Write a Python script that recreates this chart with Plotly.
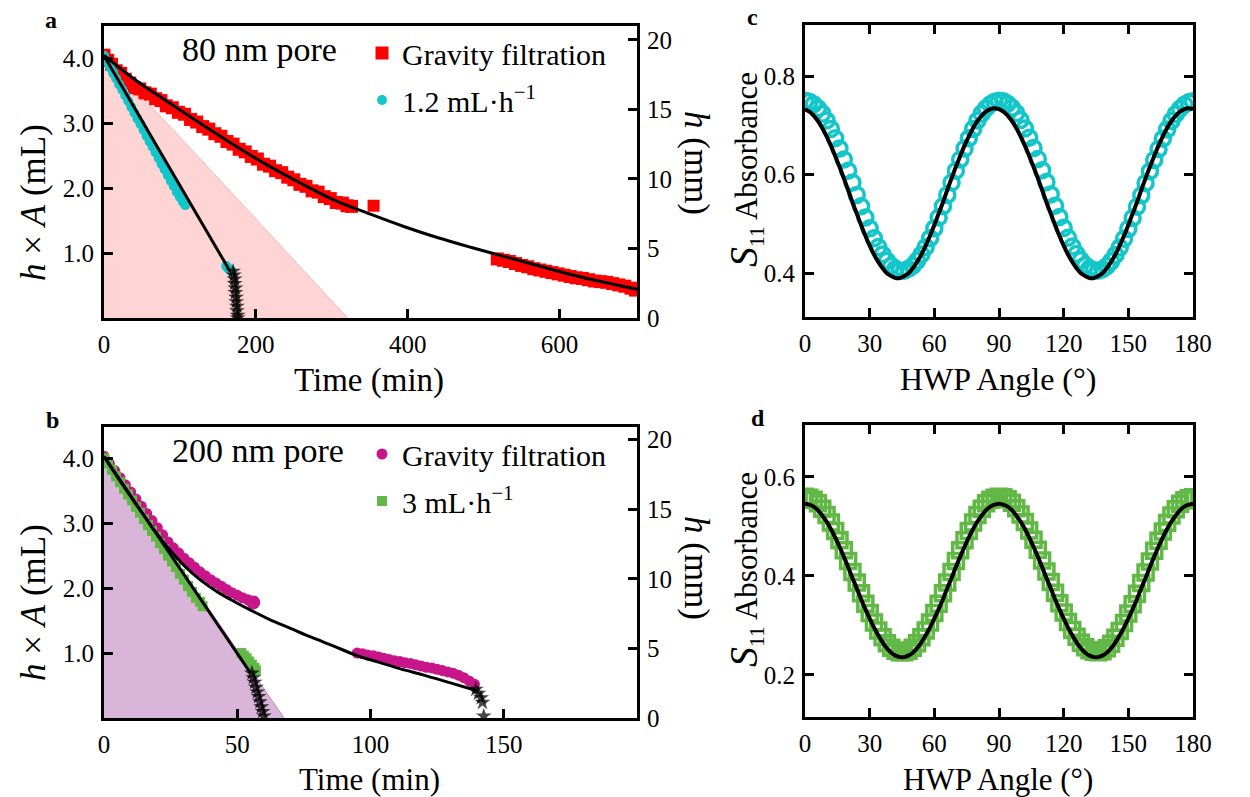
import plotly.graph_objects as go

W, H = 1250, 797
FONT = "Liberation Serif"

# ---------------- Panel a : 80 nm pore ----------------
a_grav_t = [0, 5, 10, 16, 22, 28, 34, 40, 47, 54, 61, 68, 75, 82, 90, 98, 106, 114, 122, 130,
            138, 146, 154, 162, 170, 178, 186, 194, 202, 210, 218, 226, 234, 242, 250, 258, 266,
            274, 282, 290, 298, 306, 314, 320, 326,
            518, 526, 534, 542, 550, 558, 566, 574, 582, 590, 598, 606, 614, 622, 630, 638, 646,
            654, 662, 670, 678, 686, 694, 700]
a_grav_v = [4.05, 3.97, 3.91, 3.81, 3.77, 3.68, 3.62, 3.55, 3.53, 3.47, 3.45, 3.38, 3.35, 3.27,
            3.24, 3.17, 3.14, 3.06, 3.02, 2.95, 2.91, 2.84, 2.80, 2.72, 2.68, 2.60, 2.56, 2.49,
            2.45, 2.37, 2.34, 2.27, 2.24, 2.17, 2.13, 2.06, 2.03, 1.96, 1.94, 1.87, 1.84, 1.78,
            1.77, 1.73, 1.72,
            0.91, 0.89, 0.87, 0.84, 0.81, 0.79, 0.76, 0.74, 0.72, 0.70, 0.68, 0.66, 0.64, 0.62,
            0.61, 0.59, 0.57, 0.56, 0.55, 0.53, 0.51, 0.49, 0.46, 0.43]
a_grav_out_t = [355]
a_grav_out_v = [1.73]

a_pump_t = [0, 4, 8, 12, 16, 20, 24, 28, 32, 36, 40, 44, 48, 52, 56, 60, 64, 68, 72, 76, 80,
            84, 88, 92, 96, 100, 104, 107, 161, 163, 165, 167]
a_pump_v = [4.04, 3.95, 3.86, 3.78, 3.69, 3.60, 3.52, 3.43, 3.34, 3.25, 3.16, 3.07, 2.99, 2.90,
            2.81, 2.72, 2.64, 2.55, 2.46, 2.37, 2.29, 2.20, 2.11, 2.03, 1.94, 1.86, 1.79, 1.74,
            0.80, 0.77, 0.75, 0.73]

a_star_t = [170, 171, 172, 172, 173, 173, 174, 174, 175, 175, 176, 176]
a_star_v = [0.72, 0.66, 0.60, 0.53, 0.46, 0.39, 0.32, 0.25, 0.18, 0.11, 0.04, 0.00]

a_fit_grav_t = [0, 38.7, 82.7, 126.6, 170.6, 214.6, 258.6, 302.5, 350.9, 394.9, 438.9, 482.9,
                526.8, 570.8, 614.8, 658.7, 702.8]
a_fit_grav_v = [4.05, 3.69, 3.34, 3.00, 2.67, 2.36, 2.08, 1.82, 1.60, 1.41, 1.24, 1.09, 0.95,
                0.81, 0.67, 0.55, 0.44]
a_fit_pump_t = [0, 166]
a_fit_pump_v = [4.04, 0.72]
a_shade_t = [0, 321]
a_shade_v = [4.05, 0]

# ---------------- Panel b : 200 nm pore ----------------
b_grav_t = [0, 2, 4, 6, 8, 10, 12, 14, 16, 18, 20, 22, 24, 26, 28, 30, 32, 34, 36, 38, 40, 42,
            44, 46, 48, 50, 52, 54,
            95, 97, 99, 101, 103, 105, 107, 109, 111, 113, 115, 117, 119, 121, 123, 125, 127,
            129, 131, 133, 135, 137, 139]
b_grav_v = [4.03, 3.92, 3.81, 3.70, 3.59, 3.48, 3.37, 3.26, 3.15, 3.04, 2.93, 2.82, 2.71, 2.62,
            2.54, 2.46, 2.39, 2.32, 2.25, 2.19, 2.13, 2.08, 2.03, 1.98, 1.93, 1.89, 1.85, 1.82,
            1.00, 0.99, 0.97, 0.96, 0.94, 0.92, 0.90, 0.88, 0.87, 0.85, 0.84, 0.82, 0.80, 0.78,
            0.77, 0.75, 0.73, 0.71, 0.69, 0.66, 0.62, 0.57, 0.52]
b_grav_out_t = [56]
b_grav_out_v = [1.78]

b_pump_t = [0, 1.5, 3, 4.5, 6, 7.5, 9, 10.5, 12, 13.5, 15, 16.5, 18, 19.5, 21, 22.5, 24, 25.5,
            27, 28.5, 30, 31.5, 33, 34.5, 36, 37,
            51.5, 52.5, 53.5, 54.5, 55.5, 56.5, 57]
b_pump_v = [4.00, 3.92, 3.82, 3.72, 3.63, 3.53, 3.44, 3.35, 3.25, 3.16, 3.06, 2.97, 2.88, 2.79,
            2.69, 2.60, 2.50, 2.41, 2.32, 2.22, 2.13, 2.03, 1.94, 1.85, 1.79, 1.72,
            1.00, 0.96, 0.92, 0.87, 0.82, 0.77, 0.73]

b_star_t = [55.5, 56, 56.5, 57, 57.5, 58, 58.5, 59, 59.5, 60,
            139.5, 140.5, 141.5, 142, 142.5]
b_star_v = [0.69, 0.62, 0.55, 0.47, 0.40, 0.33, 0.25, 0.17, 0.10, 0.03,
            0.44, 0.38, 0.31, 0.24, 0.03]

b_fit_grav_t = [0, 6, 12, 18, 24, 30, 36, 43, 49, 55, 62, 70, 78, 86, 95, 103, 111, 120, 130, 140]
b_fit_grav_v = [4.02, 3.65, 3.29, 2.94, 2.62, 2.35, 2.13, 1.93, 1.79, 1.66, 1.52, 1.38, 1.24,
                1.11, 0.96, 0.86, 0.76, 0.66, 0.54, 0.42]
b_fit_pump_t = [0, 55]
b_fit_pump_v = [4.03, 0.69]
b_shade_t = [0, 67.6]
b_shade_v = [4.02, 0]

# ---------------- Panels c, d : HWP angle scans ----------------
angles = [0, 2, 4, 6, 8, 10, 12, 14, 16, 18, 20, 22, 24, 26, 28, 30, 32, 34, 36, 38, 40, 42, 44,
          46, 48, 50, 52, 54, 56, 58, 60, 62, 64, 66, 68, 70, 72, 74, 76, 78, 80, 82, 84, 86, 88,
          90, 92, 94, 96, 98, 100, 102, 104, 106, 108, 110, 112, 114, 116, 118, 120, 122, 124,
          126, 128, 130, 132, 134, 136, 138, 140, 142, 144, 146, 148, 150, 152, 154, 156, 158,
          160, 162, 164, 166, 168, 170, 172, 174, 176, 178, 180]

c_data = [0.750, 0.748, 0.743, 0.735, 0.724, 0.710, 0.693, 0.674, 0.653, 0.631, 0.608, 0.584,
          0.559, 0.536, 0.513, 0.491, 0.471, 0.453, 0.438, 0.425, 0.415, 0.409, 0.405, 0.405,
          0.409, 0.415, 0.425, 0.438, 0.453, 0.471, 0.491, 0.513, 0.536, 0.559, 0.584, 0.608,
          0.631, 0.653, 0.674, 0.693, 0.710, 0.724, 0.735, 0.743, 0.748, 0.750,
          0.749, 0.744, 0.736, 0.725, 0.711, 0.694, 0.675, 0.654, 0.632, 0.609, 0.585, 0.560,
          0.537, 0.514, 0.492, 0.472, 0.454, 0.439, 0.426, 0.416, 0.410, 0.406, 0.405, 0.408,
          0.414, 0.424, 0.437, 0.452, 0.470, 0.490, 0.512, 0.535, 0.558, 0.583, 0.607, 0.630,
          0.652, 0.673, 0.692, 0.709, 0.723, 0.734, 0.742, 0.747, 0.749]
c_fit = [0.733, 0.728, 0.720, 0.709, 0.695, 0.678, 0.659, 0.638, 0.616, 0.593, 0.569, 0.544,
         0.521, 0.498, 0.476, 0.456, 0.438, 0.423, 0.410, 0.400, 0.394, 0.390, 0.390, 0.394,
         0.400, 0.410, 0.423, 0.438, 0.456, 0.476, 0.498, 0.521, 0.544, 0.569, 0.593, 0.616,
         0.638, 0.659, 0.678, 0.695, 0.709, 0.720, 0.728, 0.733, 0.735,
         0.733, 0.728, 0.720, 0.709, 0.695, 0.678, 0.659, 0.638, 0.616, 0.593, 0.569, 0.544,
         0.521, 0.498, 0.476, 0.456, 0.438, 0.423, 0.410, 0.400, 0.394, 0.390, 0.390, 0.394,
         0.400, 0.410, 0.423, 0.438, 0.456, 0.476, 0.498, 0.521, 0.544, 0.569, 0.593, 0.616,
         0.638, 0.659, 0.678, 0.695, 0.709, 0.720, 0.728, 0.733, 0.735, 0.733]

d_data = [0.560, 0.558, 0.554, 0.547, 0.536, 0.523, 0.508, 0.491, 0.472, 0.452, 0.430, 0.408,
          0.387, 0.365, 0.344, 0.325, 0.306, 0.290, 0.276, 0.264, 0.255, 0.249, 0.246, 0.246,
          0.249, 0.255, 0.264, 0.276, 0.290, 0.306, 0.325, 0.344, 0.365, 0.387, 0.408, 0.430,
          0.452, 0.472, 0.491, 0.508, 0.523, 0.536, 0.547, 0.554, 0.558, 0.560,
          0.559, 0.555, 0.548, 0.537, 0.524, 0.509, 0.492, 0.473, 0.453, 0.431, 0.409, 0.388,
          0.366, 0.345, 0.326, 0.307, 0.291, 0.277, 0.265, 0.256, 0.250, 0.247, 0.246, 0.248,
          0.254, 0.263, 0.275, 0.289, 0.305, 0.324, 0.343, 0.364, 0.386, 0.407, 0.429, 0.451,
          0.471, 0.490, 0.507, 0.522, 0.535, 0.546, 0.553, 0.557, 0.559]
d_fit = [0.546, 0.544, 0.540, 0.533, 0.522, 0.510, 0.495, 0.478, 0.459, 0.439, 0.418, 0.396,
         0.375, 0.353, 0.333, 0.314, 0.296, 0.280, 0.266, 0.254, 0.245, 0.239, 0.236, 0.236,
         0.239, 0.245, 0.254, 0.266, 0.280, 0.296, 0.314, 0.333, 0.353, 0.375, 0.396, 0.418,
         0.439, 0.459, 0.478, 0.495, 0.510, 0.522, 0.533, 0.540, 0.544, 0.546,
         0.544, 0.540, 0.533, 0.522, 0.510, 0.495, 0.478, 0.459, 0.439, 0.418, 0.396, 0.375,
         0.353, 0.333, 0.314, 0.296, 0.280, 0.266, 0.254, 0.245, 0.239, 0.236, 0.236, 0.239,
         0.245, 0.254, 0.266, 0.280, 0.296, 0.314, 0.333, 0.353, 0.375, 0.396, 0.418, 0.439,
         0.459, 0.478, 0.495, 0.510, 0.522, 0.533, 0.540, 0.544, 0.546]

# ---------------- colours ----------------
RED = "#ff0000"
CYAN = "#12c6c9"
MAGENTA = "#c8168a"
GREEN = "#62b846"
STAR = "rgba(0,0,0,0.72)"

fig = go.Figure()

def add(tr):
    fig.add_trace(tr)

# ---- panel a traces ----
add(go.Scatter(x=a_shade_t, y=a_shade_v, xaxis="x", yaxis="y", mode="lines", fill="tozeroy",
               fillcolor="rgba(255,0,0,0.17)", line=dict(color="rgba(255,0,0,0.22)", width=1),
               showlegend=False, hoverinfo="skip"))
add(go.Scatter(x=a_grav_t, y=a_grav_v, xaxis="x", yaxis="y", mode="markers",
               marker=dict(symbol="square", size=13, color=RED), name="Gravity filtration",
               legend="legend", legendgroup="a1"))
add(go.Scatter(x=a_grav_out_t, y=a_grav_out_v, xaxis="x", yaxis="y", mode="markers",
               marker=dict(symbol="square", size=12, color=RED), showlegend=False))
add(go.Scatter(x=a_pump_t, y=a_pump_v, xaxis="x", yaxis="y", mode="markers",
               marker=dict(symbol="circle", size=10, color=CYAN), name="1.2 mL·h<sup>−1</sup>",
               legend="legend", legendgroup="a2"))
add(go.Scatter(x=a_fit_grav_t, y=a_fit_grav_v, xaxis="x", yaxis="y", mode="lines",
               line=dict(color="black", width=3, shape="spline"), showlegend=False))
add(go.Scatter(x=a_fit_pump_t, y=a_fit_pump_v, xaxis="x", yaxis="y", mode="lines",
               line=dict(color="black", width=3), showlegend=False))
add(go.Scatter(x=a_star_t, y=a_star_v, xaxis="x", yaxis="y", mode="markers",
               marker=dict(symbol="star", size=12, color=STAR), showlegend=False))
add(go.Scatter(x=[None], y=[None], xaxis="x", yaxis="y2", mode="markers", showlegend=False,
               hoverinfo="skip"))

# ---- panel b traces ----
add(go.Scatter(x=b_shade_t, y=b_shade_v, xaxis="x2", yaxis="y3", mode="lines", fill="tozeroy",
               fillcolor="rgba(128,0,128,0.29)", line=dict(color="rgba(128,0,128,0.35)", width=1),
               showlegend=False, hoverinfo="skip"))
add(go.Scatter(x=b_grav_t, y=b_grav_v, xaxis="x2", yaxis="y3", mode="markers",
               marker=dict(symbol="circle", size=11, color=MAGENTA), name="Gravity filtration",
               legend="legend2", legendgroup="b1"))
add(go.Scatter(x=b_grav_out_t, y=b_grav_out_v, xaxis="x2", yaxis="y3", mode="markers",
               marker=dict(symbol="circle", size=14, color=MAGENTA), showlegend=False))
add(go.Scatter(x=b_pump_t, y=b_pump_v, xaxis="x2", yaxis="y3", mode="markers",
               marker=dict(symbol="square", size=10, color=GREEN), name="3 mL·h<sup>−1</sup>",
               legend="legend2", legendgroup="b2"))
add(go.Scatter(x=b_fit_grav_t, y=b_fit_grav_v, xaxis="x2", yaxis="y3", mode="lines",
               line=dict(color="black", width=3, shape="spline"), showlegend=False))
add(go.Scatter(x=b_fit_pump_t, y=b_fit_pump_v, xaxis="x2", yaxis="y3", mode="lines",
               line=dict(color="black", width=3), showlegend=False))
add(go.Scatter(x=b_star_t, y=b_star_v, xaxis="x2", yaxis="y3", mode="markers",
               marker=dict(symbol="star", size=12, color=STAR), showlegend=False))
add(go.Scatter(x=[None], y=[None], xaxis="x2", yaxis="y4", mode="markers", showlegend=False,
               hoverinfo="skip"))

# ---- panel c ----
add(go.Scatter(x=angles, y=c_data, xaxis="x3", yaxis="y5", mode="markers",
               marker=dict(symbol="circle-open", size=15, color=CYAN, line=dict(width=3.5, color=CYAN)),
               showlegend=False))
add(go.Scatter(x=angles, y=c_fit, xaxis="x3", yaxis="y5", mode="lines",
               line=dict(color="black", width=4, shape="spline"), showlegend=False))

# ---- panel d ----
add(go.Scatter(x=angles, y=d_data, xaxis="x4", yaxis="y6", mode="markers",
               marker=dict(symbol="square-open", size=15, color=GREEN, line=dict(width=3.5, color=GREEN)),
               showlegend=False))
add(go.Scatter(x=angles, y=d_fit, xaxis="x4", yaxis="y6", mode="lines",
               line=dict(color="black", width=4, shape="spline"), showlegend=False))

# ---------------- layout ----------------
def ax(**kw):
    base = dict(showline=True, linewidth=3, linecolor="black", ticks="inside", ticklen=9,
                tickwidth=2.5, tickcolor="black", showgrid=False, zeroline=False,
                automargin=False,
                tickfont=dict(family=FONT, size=25, color="black"), ticklabelstandoff=2)
    base.update(kw)
    return base

XA = [104 / W, 637 / W]
XC = [805 / W, 1193 / W]

fig.update_layout(
    template="none",
    width=W, height=H, margin=dict(l=0, r=0, t=0, b=0, pad=0, autoexpand=False),
    plot_bgcolor="white", paper_bgcolor="white",
    xaxis=ax(domain=XA, anchor="y", range=[0, 702], tickvals=[0, 200, 400, 600], mirror=True),
    yaxis=ax(domain=[1 - 318 / H, 1 - 26 / H], anchor="x", range=[0, 4.50],
             tickvals=[1, 2, 3, 4], tickformat=".1f"),
    yaxis2=ax(overlaying="y", side="right", anchor="x", range=[0, 21.0],
              tickvals=[0, 5, 10, 15, 20]),
    xaxis2=ax(domain=XA, anchor="y3", range=[0, 200], tickvals=[0, 50, 100, 150], mirror=True),
    yaxis3=ax(domain=[1 - 718 / H, 1 - 427 / H], anchor="x2", range=[0, 4.48],
              tickvals=[1, 2, 3, 4], tickformat=".1f"),
    yaxis4=ax(overlaying="y3", side="right", anchor="x2", range=[0, 20.9],
              tickvals=[0, 5, 10, 15, 20]),
    xaxis3=ax(domain=XC, anchor="y5", range=[0, 180], tickvals=[0, 30, 60, 90, 120, 150, 180],
              mirror="ticks"),
    yaxis5=ax(domain=[1 - 317 / H, 1 - 25 / H], anchor="x3", range=[0.311, 0.904],
              tickvals=[0.4, 0.6, 0.8], tickformat=".1f", mirror="ticks"),
    xaxis4=ax(domain=XC, anchor="y6", range=[0, 180], tickvals=[0, 30, 60, 90, 120, 150, 180],
              mirror="ticks"),
    yaxis6=ax(domain=[1 - 717 / H, 1 - 425 / H], anchor="x4", range=[0.115, 0.705],
              tickvals=[0.2, 0.4, 0.6], tickformat=".1f", mirror="ticks"),
    legend=dict(x=362 / W, y=1 - 27 / H, xanchor="left", yanchor="top",
                font=dict(family=FONT, size=30, color="black"), bgcolor="rgba(0,0,0,0)",
                tracegroupgap=5),
    legend2=dict(x=362 / W, y=1 - 428 / H, xanchor="left", yanchor="top",
                 font=dict(family=FONT, size=30, color="black"), bgcolor="rgba(0,0,0,0)",
                 tracegroupgap=5),
)

def note(text, x, y, size, angle=0, **kw):
    fig.add_annotation(text=text, x=x / W, y=1 - y / H, xref="paper", yref="paper",
                       showarrow=False, textangle=angle, xanchor="center", yanchor="middle",
                       font=dict(family=FONT, size=size, color="black"), **kw)

note("<b>a</b>", 51, 20, 24)
note("<b>b</b>", 52, 420, 24)
note("<b>c</b>", 752, 17, 24)
note("<b>d</b>", 758, 418, 24)
note("80 nm pore", 259, 50, 34)
note("200 nm pore", 258, 451, 34)
note("Time (min)", 369, 380, 33)
note("Time (min)", 369, 779, 31)
note("HWP Angle (°)", 998, 379, 32)
note("HWP Angle (°)", 998, 779, 31)
note("<i>h</i> × <i>A</i> (mL)", 33, 203, 35, angle=-90)
note("<i>h</i> × <i>A</i> (mL)", 33, 603, 35, angle=-90)
note("<i>h</i> (mm)", 697, 163, 35, angle=90)
note("<i>h</i> (mm)", 697, 568, 35, angle=90)
note("<span style='font-size:40px'><i>S</i></span><sub>11</sub> Absorbance", 745, 170, 31, angle=-90)
note("<span style='font-size:40px'><i>S</i></span><sub>11</sub> Absorbance", 745, 570, 31, angle=-90)

fig.write_html("out.html", config={"displayModeBar": False},
               post_script="document.body.style.margin='0px';document.body.style.overflow='hidden';")
